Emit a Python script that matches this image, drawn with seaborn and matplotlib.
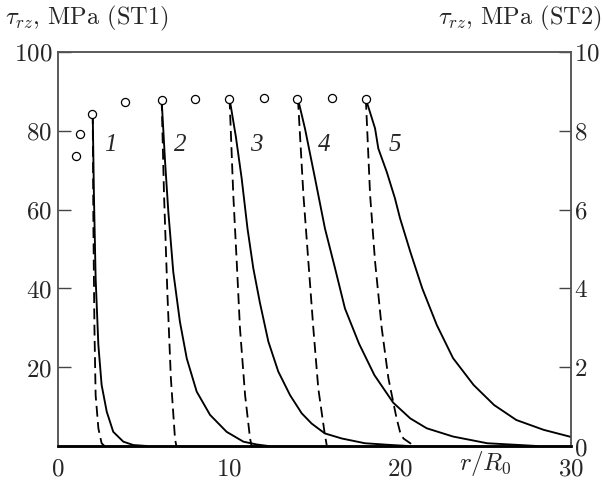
import matplotlib
matplotlib.use("Agg")
import matplotlib.pyplot as plt
import matplotlib.transforms as mtrans
import seaborn as sns
import pandas as pd

# ---- data ----
circ_x = [1.05, 1.3, 2.0, 3.92, 6.1, 8.03, 10.0, 12.06, 14.0, 16.0, 18.0]
circ_y = [73.6, 79.1, 84.3, 87.4, 87.8, 88.0, 88.1, 88.4, 88.0, 88.3, 88.1]

# ST1 (solid, left axis, MPa)
s1_x = [2.03, 2.1, 2.2, 2.36, 2.55, 2.85, 3.23, 3.82, 4.4, 5.2]
s1_y = [84.4, 63.7, 42.6, 25.6, 15.5, 8.7, 3.6, 1.1, 0.25, 0.0]
s2_x = [6.06, 6.26, 6.45, 6.74, 7.13, 7.53, 8.11, 8.89, 9.86, 10.84, 11.6, 12.3]
s2_y = [87.8, 72.2, 59.5, 44.2, 31.5, 22.2, 13.8, 7.9, 3.6, 1.1, 0.4, 0.0]
s3_x = [10.03, 10.4, 10.74, 11.08, 11.42, 11.8, 12.3, 12.88, 13.57, 14.25, 14.83,
        15.6, 16.6, 17.95, 19.5, 20.5]
s3_y = [88.2, 78.5, 67.9, 55.2, 45.1, 36.5, 26.5, 18.9, 12.9, 8.3, 5.7,
        3.2, 1.9, 0.7, 0.25, 0.0]
s4_x = [14.03, 14.44, 15.03, 15.61, 16.2, 16.78, 17.6, 18.5, 19.6, 20.6, 21.56,
        23.1, 25.1, 27.0, 28.0]
s4_y = [88.1, 80.6, 67.9, 55.2, 45.1, 34.9, 26.0, 18.0, 11.0, 7.0, 4.5,
        2.4, 0.7, 0.25, 0.0]
s5_x = [18.0, 18.54, 18.73, 19.22, 19.7, 20.0, 20.6, 21.3, 22.15, 23.1, 24.3,
        25.5, 26.8, 28.4, 30.0]
s5_y = [88.1, 80.6, 75.5, 69.6, 62.9, 57.8, 49.3, 40.0, 30.7, 22.3, 15.5,
        10.4, 6.6, 4.1, 2.3]

# ST2 (dashed, right axis, MPa)
d1_x = [2.03, 2.07, 2.13, 2.2, 2.36, 2.55, 2.72]
d1_y = [8.44, 5.53, 2.99, 1.29, 0.45, 0.07, 0.0]
d2_x = [6.06, 6.2, 6.4, 6.6, 6.84, 6.92]
d2_y = [8.78, 6.37, 3.83, 1.72, 0.19, 0.0]
d3_x = [10.03, 10.25, 10.45, 10.64, 10.94, 11.23, 11.32]
d3_y = [8.82, 6.37, 4.68, 2.99, 1.29, 0.19, 0.0]
d4_x = [14.03, 14.35, 14.64, 14.93, 15.22, 15.58, 15.72]
d4_y = [8.81, 6.37, 4.68, 2.99, 1.46, 0.36, 0.0]
d5_x = [18.0, 18.25, 18.54, 18.93, 19.32, 19.6, 19.8, 20.0, 20.2, 20.6, 20.8]
d5_y = [8.81, 6.37, 4.68, 2.99, 1.72, 1.12, 0.7, 0.36, 0.19, 0.07, 0.0]

curve_labels = ["1", "2", "3", "4", "5"]
label_x = [2.72, 6.8, 11.2, 15.2, 19.35]
label_y = [76.5, 76.5, 76.5, 76.5, 76.5]

x_ticks = [0, 5, 10, 15, 20, 25, 30]
x_ticklabels = ["$0$", "", "$10$", "", "$20$", "", "$30$"]
x_axis_label = "$r/R_0$"
x_axis_label_pos = 25
yl_ticks = [0, 20, 40, 60, 80, 100]
yl_ticklabels = ["", "$20$", "$40$", "$60$", "$80$", "$100$"]
yr_ticks = [0, 2, 4, 6, 8, 10]
yr_ticklabels = ["$0$", "$2$", "$4$", "$6$", "$8$", "$10$"]

# ---- style ----
sns.set_style("white")
plt.rcParams["mathtext.fontset"] = "cm"
plt.rcParams["font.family"] = ["DejaVu Serif"]

fig = plt.figure(figsize=(6.03, 4.84), dpi=100)
ax = fig.add_axes([0.0962, 0.0785, 0.947 - 0.0962, 0.8926 - 0.0785])
ax2 = ax.twinx()

solids = [(s1_x, s1_y), (s2_x, s2_y), (s3_x, s3_y), (s4_x, s4_y), (s5_x, s5_y)]
dashes = [(d1_x, d1_y), (d2_x, d2_y), (d3_x, d3_y), (d4_x, d4_y), (d5_x, d5_y)]

for xs, ys in solids:
    df = pd.DataFrame({"x": xs, "y": ys})
    sns.lineplot(data=df, x="x", y="y", ax=ax, sort=False, color="black",
                 lw=1.35, estimator=None)
for xs, ys in dashes:
    df = pd.DataFrame({"x": xs, "y": ys})
    sns.lineplot(data=df, x="x", y="y", ax=ax2, sort=False, color="black",
                 lw=1.3, estimator=None, linestyle=(0, (6, 3)))

cdf = pd.DataFrame({"x": circ_x, "y": circ_y})
sns.scatterplot(data=cdf, x="x", y="y", ax=ax, s=34,
                facecolor="white", edgecolor="black", linewidth=0.9, zorder=5)
ax.set_zorder(ax2.get_zorder() + 1)
ax.patch.set_visible(False)

for t, lx, ly in zip(curve_labels, label_x, label_y):
    ax.text(lx, ly, t, fontsize=18, ha="left", va="center",
            family="Liberation Serif", style="italic")

ax.set_xlim(0, 30)
ax.set_ylim(0, 100)
ax2.set_ylim(0, 10)
ax.set_xticks(x_ticks)
ax.set_xticklabels(x_ticklabels, fontsize=18)
ax.set_yticks(yl_ticks)
ax.set_yticklabels(yl_ticklabels, fontsize=18)
ax2.set_yticks(yr_ticks)
ax2.set_yticklabels(yr_ticklabels, fontsize=18)
ax.set_xlabel("")
ax.set_ylabel("")
ax2.set_xlabel("")
ax2.set_ylabel("")

trans = mtrans.blended_transform_factory(ax.transData, ax.transAxes)
ax.text(x_axis_label_pos, -0.045, x_axis_label, transform=trans, fontsize=18,
        ha="center", va="center")

ax.tick_params(axis="x", direction="in", length=7, width=1, color="#444", pad=8)
ax.tick_params(axis="y", direction="in", length=9, width=1, color="#444", pad=4)
ax2.tick_params(axis="y", direction="in", length=9, width=1, color="#444", pad=2)

for a in (ax, ax2):
    for sp in a.spines.values():
        sp.set_color("#555555")
        sp.set_linewidth(1.1)
    a.spines["bottom"].set_color("black")
    a.spines["bottom"].set_linewidth(1.8)

fig.text(0.008, 0.962, "$\\tau_{rz}$, MPa (ST1)", fontsize=17.5, ha="left", va="center",
         family=["cmr10", "DejaVu Serif"])
fig.text(0.998, 0.962, "$\\tau_{rz}$, MPa (ST2)", fontsize=17.5, ha="right", va="center",
         family=["cmr10", "DejaVu Serif"])

fig.savefig("out.png", dpi=100)
